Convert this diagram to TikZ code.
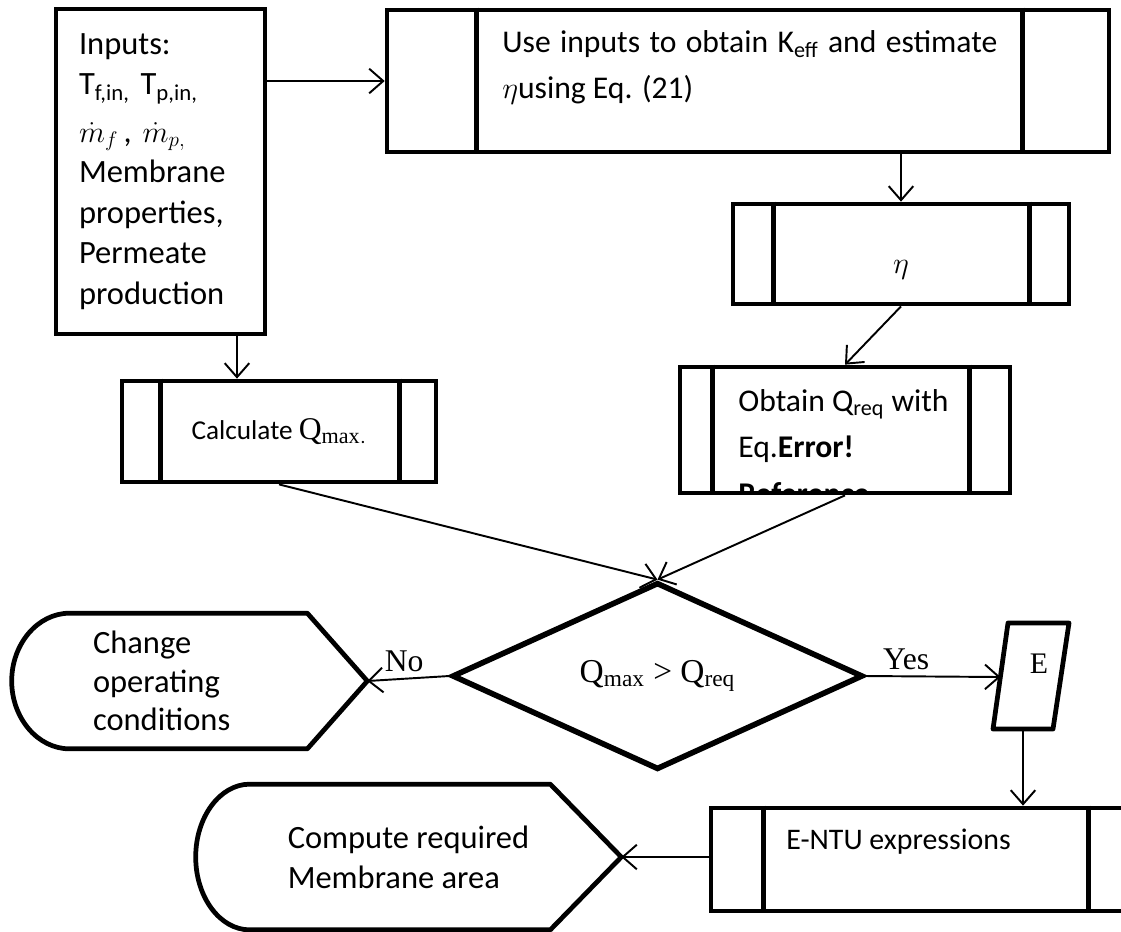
\documentclass[tikz,border=0pt]{standalone}
\usepackage{fontspec}
\setmainfont{Carlito}
\newfontfamily\tnr{Liberation Serif}
\usetikzlibrary{shapes.geometric, arrows.meta, calc}

\begin{document}
\begin{tikzpicture}[x=0.02cm, y=-0.02cm,
            proc/.style={draw, rectangle, line width=2.7pt, inner sep=0pt},
            boxline/.style={line width=2.7pt, line join=round},
            conn/.style={line width=1.1pt, -{Straight Barb[length=8pt, width=14pt]}},
            lbl/.style={font=\tnr\fontsize{18}{20}\selectfont}]
            \useasboundingbox (0,0) rectangle (1121,931);
            \clip (0,0) rectangle (1121,931);

            \node[proc, minimum width=4.18cm, minimum height=6.5cm, text width=3.26cm, align=left, font=\fontsize{18.5}{23}\selectfont] (inputs) at (160.5,171.5) {Inputs:\\T\textsubscript{f,in,} T\textsubscript{p,in,}\\[4pt]$\dot{m}_f$\,, $\dot{m}_{p,}$\\Membrane\\properties,\\Permeate\\production};
            \node[proc, minimum width=14.44cm, minimum height=2.84cm] (usebox) at (748,81) {};
            \node[anchor=north west, inner sep=0pt, align=left, font=\fontsize{18}{26.5}\selectfont] (usetext) at (502,30) {\makebox[9.9cm][s]{Use inputs to obtain K\textsubscript{eff} and estimate}\\$\eta$using Eq. (21)};
            \node[proc, minimum width=6.72cm, minimum height=2cm, text height=0.9cm, font=\fontsize{19}{21}\selectfont] (eta) at (901,254) {$\eta$};
            \node[proc, minimum width=6.28cm, minimum height=2.02cm, font=\fontsize{15.5}{17}\selectfont] (calc) at (279,431.5) {Calculate {\tnr\fontsize{18}{17}\selectfont Q\textsubscript{max}}\textsubscript{.}};
            \node[proc, minimum width=6.6cm, minimum height=2.52cm] (obtain) at (845,430) {};
            \begin{scope}
                \clip ([shift={(3,3)}]obtain.north west) rectangle ([shift={(-3,-3)}]obtain.south east);
                \node[anchor=north west, inner sep=0pt, align=left, font=\fontsize{18}{26.5}\selectfont] (obtaintext) at (738,389) {Obtain Q\textsubscript{req} with\\Eq.\textbf{Error!}\\\textbf{Reference}};
            \end{scope}
            \node[diamond, draw, line width=3.2pt, minimum width=8.22cm, minimum height=2.88cm, inner sep=0pt, font=\tnr\fontsize{19}{20}\selectfont] (dec) at (657.5,676) {Q\textsubscript{max} > Q\textsubscript{req}};
            \node[minimum width=7.1cm, minimum height=2.7cm, text width=3.86cm, align=left, font=\fontsize{18.5}{22}\selectfont] (change) at (189.5,681) {Change\\operating\\conditions};
            \node[inner sep=0pt, font=\tnr\fontsize{17}{18}\selectfont] (ebox) at (1039,664) {E};
            \node[proc, minimum width=8.58cm, minimum height=2.06cm] (entu) at (925.5,859.5) {};
            \node[anchor=west, inner sep=0pt, font=\fontsize{17}{20}\selectfont] (entutext) at (786,842) {E-NTU expressions};
            \node[minimum width=8.5cm, minimum height=2.9cm, align=left, font=\fontsize{18.5}{22.7}\selectfont] (compute) at (408.5,857) {Compute required\\Membrane area};

            \foreach \n/\l/\r in {usebox/92/89, eta/43/42, calc/41/39, obtain/35/43, entu/55/54} {
                \draw[boxline] ([shift={(\l,0)}]\n.north west) -- ([shift={(\l,0)}]\n.south west);
                \draw[boxline] ([shift={(-\r,0)}]\n.north east) -- ([shift={(-\r,0)}]\n.south east);
            }
            \foreach \n/\a/\b/\c in {change/58/60/37, compute/54/71/40} {
                \draw[boxline] ([shift={(\a,0)}]\n.north west) -- ([shift={(-\b,0)}]\n.north east) -- (\n.east) -- ([shift={(-\b,0)}]\n.south east) -- ([shift={(\a,0)}]\n.south west) .. controls ([shift={(0.448*\a,0)}]\n.south west) and ([shift={(0,\c)}]\n.west) .. (\n.west) .. controls ([shift={(0,-\c)}]\n.west) and ([shift={(0.448*\a,0)}]\n.north west) .. ([shift={(\a,0)}]\n.north west) -- cycle;
            }
            \draw[boxline] ([shift={(-31,-41)}]ebox.center) -- ([shift={(30,-41)}]ebox.center) -- ([shift={(14,65)}]ebox.center) -- ([shift={(-46,65)}]ebox.center) -- cycle;
            \coordinate (ein) at ([shift={(-38.5,13)}]ebox.center);
            \coordinate (eout) at ([shift={(-16,65)}]ebox.center);

            \draw[conn] (inputs.east |- usebox.west) -- (usebox.west);
            \draw[conn] ([xshift=1.53cm]inputs.south) -- ([xshift=1.53cm]inputs.south |- calc.north);
            \draw[conn] (eta.north |- usebox.south) -- (eta.north);
            \draw[conn] (eta.south) -- (obtain.north);
            \draw[conn] (calc.south) -- (dec.north);
            \draw[conn] (obtain.south) -- (dec.north);
            \draw[conn] (dec.west) -- (change.east) node[pos=0.55, above, lbl] (nolbl) {No};
            \draw[conn] (dec.east) -- (ein) node[pos=0.3, above, lbl] (yeslbl) {Yes};
            \draw[conn] (eout) -- (eout |- entu.north);
            \draw[conn] (compute.east -| entu.west) -- (compute.east);
        \end{tikzpicture}
\end{document}
